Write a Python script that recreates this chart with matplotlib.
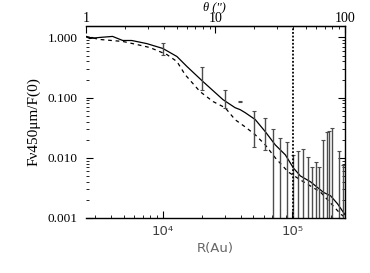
import numpy as np
import matplotlib
matplotlib.use("Agg")
import matplotlib.pyplot as plt
from matplotlib.ticker import LogLocator, FixedLocator, FixedFormatter, NullFormatter

plt.rcParams['font.family'] = ['Liberation Serif', 'DejaVu Serif']

# distance factor: R(AU) = theta(arcsec) * DIST
DIST = 2550.0

# radial profile (normalised), solid = observed, dashed = model
r_solid = [2550, 2720, 3250, 4090, 4900, 5750, 7520, 10000, 12850, 15350, 20400,
           29150, 36150, 39540, 43250, 51650, 61800, 73800, 88300, 101800,
           115300, 138000, 173800, 197200, 223400, 257600]
f_solid = [1.04, 0.96, 1.0, 1.04, 0.89, 0.89, 0.79, 0.656, 0.482, 0.329, 0.185,
           0.0925, 0.068, 0.0631, 0.0562, 0.0433, 0.0272, 0.0164, 0.0112, 0.0068,
           0.0050, 0.0040, 0.00267, 0.00234, 0.00172, 0.00110]

r_dash = [2550, 3250, 4900, 6280, 7920, 10740, 12850, 14830, 19360, 24430,
          30270, 36150, 43250, 51650, 61800, 73800, 93100, 115300, 164800,
          235500, 257600]
f_dash = [1.04, 0.926, 0.858, 0.764, 0.681, 0.52, 0.398, 0.242, 0.126, 0.086,
          0.068, 0.043, 0.0326, 0.0242, 0.0164, 0.0100, 0.0058, 0.0043, 0.0027,
          0.00117, 0.0010]

# binned measurements with 1-sigma errors
r_pts = [10000, 20000, 30300, 39500, 50700, 61800, 71300, 80800, 91500, 101800,
         111400, 121600, 133000, 142900, 153500, 161800, 173800, 183700, 193600,
         204200, 227500, 244300]
f_pts = [0.67, 0.23, 0.10, 0.086, 0.038, 0.030, 0.014, 0.0098, 0.0085, 0.0051,
         0.0060, 0.0065, 0.0047, 0.0032, 0.0039, 0.0032, 0.0090, 0.0122, 0.0127,
         0.0142, 0.0058, 0.0035]
e_pts = [0.15, 0.097, 0.033, 0.0008, 0.023, 0.0164, 0.0165, 0.0117, 0.0100, 0.0061,
         0.0070, 0.0076, 0.0057, 0.0039, 0.0047, 0.0039, 0.0110, 0.0150, 0.0155,
         0.0174, 0.0072, 0.0042]

r_mark = 102000   # vertical dotted marker

x_ticks = [1e4, 1e5]
x_ticklabels = ['10⁴', '10⁵']
theta_ticks = [1, 10, 100]
theta_ticklabels = ['1', '10', '100']

fig = plt.figure(figsize=(3.7, 2.73), dpi=100)
ax = fig.add_axes([0.2324, 0.2015, 0.7, 0.7033])

ax.plot(r_solid, f_solid, color='black', lw=0.9)
ax.plot(r_dash, f_dash, color='black', lw=0.9, ls=(0, (3.0, 3.0)))

f = np.array(f_pts)
e = np.array(e_pts)
lo = np.minimum(e, f - 1e-6)
ax.errorbar(r_pts, f, yerr=[lo, e], fmt='none', ecolor='0.3',
            elinewidth=1.0, capsize=1.5, capthick=0.8)

ax.axvline(r_mark, color='black', lw=1.3, ls=(0, (1, 1)))

ax.set_xscale('log')
ax.set_yscale('log')
ax.set_xlim(DIST, DIST * 100)
ax.set_ylim(0.001, 1.55)

ax.spines['left'].set_visible(False)
for s in ['top', 'right', 'bottom']:
    ax.spines[s].set_linewidth(1.0)

ax.tick_params(which='both', direction='in', top=False, right=True, left=True)
ax.tick_params(which='major', length=5, width=0.8)
ax.tick_params(which='minor', length=2.5, width=0.6)
ax.tick_params(axis='y', labelsize=9.5, pad=6)
ax.tick_params(axis='x', labelsize=9.5, pad=5, labelcolor='0.25')

ax.yaxis.set_major_locator(FixedLocator([0.001, 0.01, 0.1, 1.0]))
ax.yaxis.set_major_formatter(FixedFormatter(['0.001', '0.010', '0.100', '1.000']))
ax.yaxis.set_minor_locator(LogLocator(base=10, subs=np.arange(2, 10)))
ax.yaxis.set_minor_formatter(NullFormatter())

ax.xaxis.set_major_locator(FixedLocator(x_ticks))
ax.xaxis.set_major_formatter(FixedFormatter(x_ticklabels))
ax.xaxis.set_minor_formatter(NullFormatter())
for lab in ax.get_xticklabels():
    lab.set_family(['DejaVu Sans'])

ax.set_xlabel('R(Au)', family=['DejaVu Sans'], fontsize=9.5, color='0.4', labelpad=3)
ax.set_ylabel('Fν450μm/F(0)', fontsize=11, labelpad=5)

top = ax.secondary_xaxis('top', functions=(lambda r: r / DIST, lambda t: t * DIST))
top.tick_params(which='both', direction='in')
top.tick_params(which='major', length=5, width=0.8, labelsize=10, pad=0.5)
top.tick_params(which='minor', length=2.5, width=0.6)
top.xaxis.set_major_locator(FixedLocator(theta_ticks))
top.xaxis.set_major_formatter(FixedFormatter(theta_ticklabels))
top.xaxis.set_minor_formatter(NullFormatter())
fig.text(0.58, 0.975, "θ ('')", fontsize=9, style='italic', ha='center', va='center')

fig.savefig('out.png', dpi=100)
